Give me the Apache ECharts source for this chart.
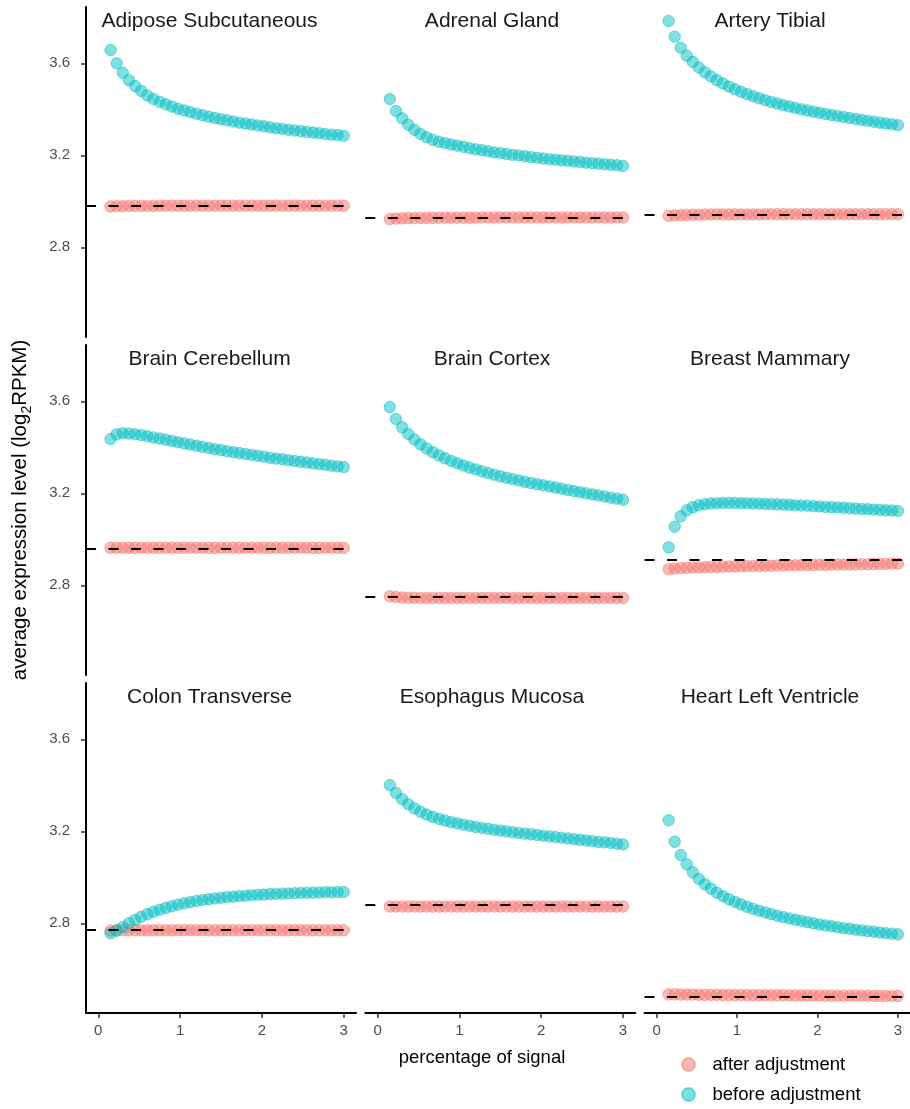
<!DOCTYPE html>
<html><head><meta charset="utf-8">
<script src="https://cdn.jsdelivr.net/npm/echarts@6/dist/echarts.min.js"></script>
<style>html,body{margin:0;padding:0;background:#fff}#c{width:910px;height:1109px}</style>
</head><body><div id="c"></div>
<script>
// ---------- data ----------
const xValues = [0.15,0.225,0.3,0.375,0.45,0.525,0.6,0.675,0.75,0.825,
  0.9,0.975,1.05,1.125,1.2,1.275,1.35,1.425,1.5,1.575,
  1.65,1.725,1.8,1.875,1.95,2.025,2.1,2.175,2.25,2.325,
  2.4,2.475,2.55,2.625,2.7,2.775,2.85,2.925,3.0];

const panelNames = ['Adipose Subcutaneous','Adrenal Gland','Artery Tibial',
  'Brain Cerebellum','Brain Cortex','Breast Mammary',
  'Colon Transverse','Esophagus Mucosa','Heart Left Ventricle'];

const adiposeBefore = [3.658,3.600,3.559,3.527,3.501,3.480,3.460,3.445,3.433,3.422,
  3.412,3.403,3.395,3.388,3.381,3.374,3.368,3.362,3.357,3.352,
  3.347,3.342,3.338,3.334,3.330,3.326,3.322,3.318,3.315,3.311,
  3.308,3.305,3.302,3.299,3.296,3.293,3.290,3.288,3.285];
const adiposeAfter = [2.978,2.979,2.979,2.980,2.980,2.980,2.980,2.980,2.981,2.981,
  2.981,2.981,2.981,2.981,2.981,2.981,2.981,2.981,2.981,2.981,
  2.981,2.981,2.981,2.981,2.981,2.981,2.981,2.981,2.981,2.981,
  2.981,2.981,2.981,2.981,2.981,2.981,2.981,2.981,2.981];

const adrenalBefore = [3.445,3.393,3.361,3.333,3.311,3.293,3.279,3.267,3.259,3.253,
  3.247,3.242,3.237,3.231,3.226,3.222,3.218,3.213,3.209,3.206,
  3.202,3.199,3.196,3.192,3.189,3.186,3.183,3.181,3.178,3.176,
  3.173,3.171,3.168,3.166,3.164,3.161,3.159,3.157,3.154];
const adrenalAfter = [2.923,2.925,2.926,2.927,2.927,2.928,2.928,2.928,2.929,2.929,
  2.929,2.929,2.929,2.929,2.929,2.930,2.930,2.930,2.930,2.930,
  2.930,2.930,2.930,2.930,2.930,2.930,2.930,2.930,2.930,2.930,
  2.930,2.930,2.930,2.930,2.930,2.930,2.930,2.930,2.930];

const arteryBefore = [3.784,3.716,3.668,3.633,3.606,3.582,3.561,3.543,3.527,3.512,
  3.499,3.487,3.476,3.466,3.457,3.448,3.440,3.432,3.425,3.418,
  3.412,3.406,3.400,3.395,3.390,3.385,3.380,3.375,3.371,3.367,
  3.362,3.358,3.354,3.350,3.346,3.342,3.338,3.335,3.331];
const arteryAfter = [2.937,2.939,2.940,2.941,2.942,2.942,2.943,2.943,2.943,2.943,
  2.943,2.943,2.943,2.943,2.943,2.943,2.944,2.944,2.944,2.944,
  2.944,2.944,2.944,2.944,2.944,2.944,2.944,2.944,2.944,2.944,
  2.944,2.944,2.944,2.944,2.944,2.944,2.944,2.944,2.944];

const cerebellumBefore = [3.436,3.457,3.461,3.460,3.457,3.453,3.448,3.443,3.438,3.433,
  3.428,3.422,3.417,3.412,3.407,3.402,3.397,3.392,3.388,3.383,
  3.379,3.375,3.371,3.367,3.363,3.359,3.355,3.351,3.348,3.344,
  3.341,3.337,3.334,3.330,3.327,3.324,3.320,3.317,3.314];
const cerebellumAfter = [2.963,2.963,2.963,2.963,2.963,2.963,2.963,2.963,2.963,2.963,
  2.963,2.963,2.963,2.963,2.963,2.963,2.963,2.963,2.963,2.963,
  2.963,2.963,2.963,2.963,2.963,2.963,2.963,2.963,2.963,2.963,
  2.963,2.963,2.963,2.963,2.963,2.963,2.963,2.963,2.963];

const cortexBefore = [3.575,3.523,3.487,3.458,3.434,3.413,3.395,3.379,3.365,3.352,
  3.341,3.331,3.321,3.312,3.304,3.296,3.288,3.281,3.274,3.268,
  3.262,3.256,3.250,3.245,3.240,3.235,3.230,3.225,3.220,3.215,
  3.210,3.205,3.200,3.195,3.191,3.186,3.181,3.177,3.172];
const cortexAfter = [2.752,2.749,2.747,2.746,2.746,2.745,2.745,2.745,2.745,2.745,
  2.745,2.745,2.745,2.745,2.745,2.745,2.745,2.745,2.745,2.745,
  2.745,2.745,2.745,2.745,2.745,2.745,2.745,2.745,2.745,2.745,
  2.745,2.745,2.745,2.745,2.745,2.745,2.745,2.745,2.745];

const breastBefore = [2.965,3.055,3.100,3.126,3.140,3.148,3.153,3.156,3.157,3.158,
  3.158,3.158,3.157,3.157,3.156,3.155,3.154,3.153,3.152,3.151,
  3.150,3.148,3.147,3.146,3.144,3.143,3.141,3.140,3.138,3.137,
  3.135,3.134,3.132,3.131,3.129,3.128,3.126,3.125,3.123];
const breastAfter = [2.870,2.873,2.875,2.876,2.877,2.878,2.879,2.880,2.880,2.881,
  2.882,2.882,2.883,2.883,2.884,2.884,2.885,2.885,2.886,2.886,
  2.887,2.887,2.888,2.888,2.888,2.889,2.889,2.890,2.890,2.890,
  2.891,2.891,2.892,2.892,2.892,2.893,2.893,2.894,2.894];

const colonBefore = [2.757,2.768,2.784,2.800,2.815,2.828,2.840,2.850,2.859,2.867,
  2.874,2.881,2.887,2.892,2.897,2.901,2.905,2.908,2.911,2.914,
  2.916,2.918,2.920,2.922,2.924,2.925,2.927,2.928,2.929,2.930,
  2.931,2.932,2.933,2.933,2.934,2.935,2.935,2.936,2.936];
const colonAfter = [2.769,2.770,2.770,2.770,2.770,2.770,2.770,2.770,2.770,2.770,
  2.770,2.770,2.770,2.770,2.770,2.770,2.770,2.770,2.770,2.770,
  2.770,2.770,2.770,2.770,2.770,2.770,2.770,2.770,2.770,2.770,
  2.770,2.770,2.770,2.770,2.770,2.770,2.770,2.770,2.770];

const esophagusBefore = [3.401,3.367,3.340,3.318,3.300,3.285,3.273,3.263,3.254,3.247,
  3.240,3.234,3.229,3.224,3.219,3.215,3.211,3.207,3.203,3.200,
  3.196,3.193,3.190,3.187,3.184,3.181,3.178,3.175,3.172,3.169,
  3.166,3.163,3.160,3.157,3.154,3.152,3.149,3.146,3.143];
const esophagusAfter = [2.873,2.873,2.873,2.873,2.873,2.873,2.873,2.873,2.873,2.873,
  2.873,2.873,2.873,2.873,2.873,2.873,2.873,2.873,2.873,2.873,
  2.873,2.873,2.873,2.873,2.873,2.873,2.873,2.873,2.873,2.873,
  2.873,2.873,2.873,2.873,2.873,2.873,2.873,2.873,2.873];

const heartBefore = [3.248,3.155,3.097,3.057,3.022,2.993,2.970,2.951,2.933,2.918,
  2.905,2.893,2.882,2.872,2.863,2.855,2.847,2.840,2.833,2.827,
  2.821,2.815,2.810,2.805,2.800,2.795,2.791,2.787,2.783,2.779,
  2.776,2.772,2.769,2.766,2.763,2.760,2.757,2.755,2.752];
const heartAfter = [2.491,2.491,2.490,2.490,2.490,2.489,2.489,2.489,2.489,2.488,
  2.488,2.488,2.488,2.488,2.487,2.487,2.487,2.487,2.487,2.487,
  2.486,2.486,2.486,2.486,2.486,2.486,2.485,2.485,2.485,2.485,
  2.485,2.485,2.485,2.485,2.484,2.484,2.484,2.484,2.484];

const hlineValues = [2.981,2.930,2.943,2.963,2.745,2.911,2.774,2.875,2.477];

const xTicks = [0,1,2,3];
const yTicks = [2.8,3.2,3.6];
const seriesNames = ['after adjustment','before adjustment'];
const xLabel = 'percentage of signal';

const beforeData = [adiposeBefore,adrenalBefore,arteryBefore,cerebellumBefore,cortexBefore,
  breastBefore,colonBefore,esophagusBefore,heartBefore];
const afterData = [adiposeAfter,adrenalAfter,arteryAfter,cerebellumAfter,cortexAfter,
  breastAfter,colonAfter,esophagusAfter,heartAfter];

// ---------- layout / style ----------
const FONT = '"Liberation Sans", Arial, sans-serif';
const lefts = [86, 365.3, 644.5], tops = [7, 345, 683], W = 270, H = 330;
const titleX = [209.5, 492, 770];
const cAfter = 'rgba(248,118,109,0.5)', cAfterB = 'rgba(240,100,92,0.45)';
const cBefore = 'rgba(0,191,196,0.5)', cBeforeB = 'rgba(0,180,186,0.45)';

const grids = [], xAxes = [], yAxes = [], series = [], titles = [];
for (let g = 0; g < 9; g++) {
  const r = Math.floor(g / 3), c = g % 3;
  grids.push({left: lefts[c], top: tops[r], width: W, height: H, containLabel: false});
  xAxes.push({
    type: 'value', gridIndex: g, min: -0.15, max: 3.15,
    show: r === 2,
    splitLine: {show: false},
    axisLine: {show: true, onZero: false, lineStyle: {color: '#000', width: 2}},
    axisTick: {show: true, length: 5, customValues: xTicks, lineStyle: {color: '#333', width: 1.5}},
    axisLabel: {show: true, customValues: xTicks, color: '#4d4d4d', fontSize: 15, fontFamily: FONT, margin: 10}
  });
  const yA = {
    type: 'value', gridIndex: g, min: 2.41, max: 3.845,
    show: c === 0,
    splitLine: {show: false},
    axisLine: {show: true, onZero: false, lineStyle: {color: '#000', width: 2}},
    axisTick: {show: true, length: 5, customValues: yTicks, lineStyle: {color: '#333', width: 1.5}},
    axisLabel: {show: true, customValues: yTicks, color: '#4d4d4d', fontSize: 15, fontFamily: FONT, margin: 16,
      formatter: v => v.toFixed(1)}
  };
  if (g === 3) {
    yA.name = '{a|average expression level (log}{s|2}{a|RPKM)}';
    yA.nameLocation = 'middle';
    yA.nameGap = 52;
    yA.nameTextStyle = {
      fontFamily: FONT,
      rich: {
        a: {fontSize: 20.5, color: '#000', fontFamily: FONT, lineHeight: 28, verticalAlign: 'middle'},
        s: {fontSize: 14, color: '#000', fontFamily: FONT, lineHeight: 28, verticalAlign: 'bottom'}
      }
    };
  }
  yAxes.push(yA);

  series.push({
    name: seriesNames[0], type: 'scatter', xAxisIndex: g, yAxisIndex: g,
    symbol: 'circle', symbolSize: 11.5, z: 2,
    itemStyle: {color: cAfter, borderColor: cAfterB, borderWidth: 1, opacity: 1},
    data: xValues.map((x, i) => [x, afterData[g][i]])
  });
  series.push({
    name: seriesNames[1], type: 'scatter', xAxisIndex: g, yAxisIndex: g,
    symbol: 'circle', symbolSize: 11.5, z: 3,
    itemStyle: {color: cBefore, borderColor: cBeforeB, borderWidth: 1, opacity: 1},
    data: xValues.map((x, i) => [x, beforeData[g][i]])
  });
  series.push({
    name: 'hline', type: 'scatter', xAxisIndex: g, yAxisIndex: g, z: 5,
    data: [], silent: true,
    markLine: {
      silent: true, symbol: ['none', 'none'], animation: false,
      label: {show: false},
      lineStyle: {color: '#000', width: 2, type: [10, 12.5], opacity: 1},
      emphasis: {disabled: true},
      data: [{yAxis: hlineValues[g]}]
    }
  });

  titles.push({
    text: panelNames[g], left: titleX[c], top: tops[r] + 4, textAlign: 'center', padding: 0,
    textStyle: {fontSize: 21, fontWeight: 'normal', color: '#1a1a1a', fontFamily: FONT}
  });
}
titles.push({
  text: xLabel, left: 482, top: 1048, textAlign: 'center', padding: 0,
  textStyle: {fontSize: 18.5, fontWeight: 'normal', color: '#000', fontFamily: FONT}
});

const legendBase = {
  orient: 'vertical', left: 676, icon: 'circle', itemWidth: 38, itemHeight: 13,
  textStyle: {fontSize: 18.5, color: '#000', fontFamily: FONT}
};

const chart = echarts.init(document.getElementById('c'), null, {renderer: 'canvas'});
chart.setOption({
  animation: false,
  backgroundColor: '#fff',
  title: titles,
  grid: grids,
  xAxis: xAxes,
  yAxis: yAxes,
  legend: [
    Object.assign({}, legendBase, {data: [seriesNames[0]], top: 1050}),
    Object.assign({}, legendBase, {data: [seriesNames[1]], top: 1080})
  ],
  series: series
});
</script>
</body></html>
